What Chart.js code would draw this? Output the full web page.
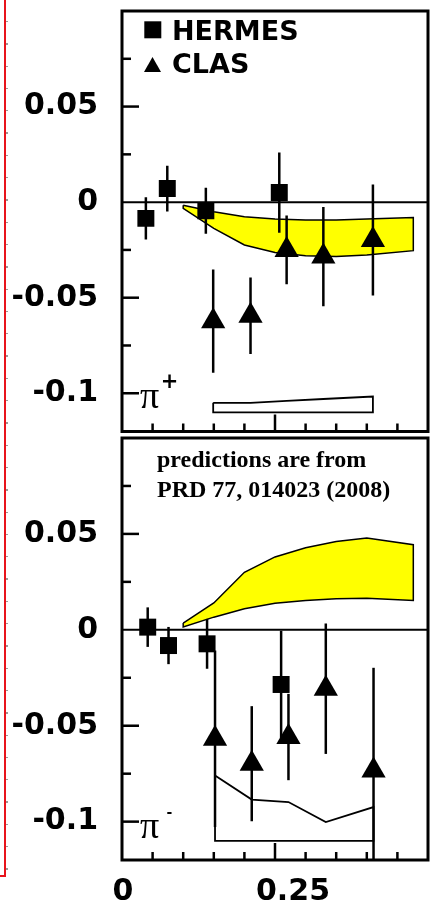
<!DOCTYPE html>
<html>
<head>
<meta charset="utf-8">
<script src="https://cdn.jsdelivr.net/npm/chart.js@4.4.0/dist/chart.umd.min.js"></script>
<style>
body { margin: 0; background: #fff; width: 434px; height: 914px; position: relative; overflow: hidden; }
canvas { position: absolute; left: 0; }
#top { top: 0; }
#bot { top: 430px; }
#edge { position: absolute; left: 0; top: 0; width: 4px; height: 875px; border-right: 2px solid #e8141c; border-bottom: 2px solid #e8141c; }
#edgeTicks { position: absolute; left: 6px; top: 0; width: 2px; height: 876px;
  background: repeating-linear-gradient(to bottom, transparent 0 21px, #999 21px 22.3px); }
</style>
</head>
<body>
<div id="edge"></div><div id="edgeTicks"></div>
<canvas id="top" width="434" height="440"></canvas>
<canvas id="bot" width="434" height="484"></canvas>
<script>
var xLabels = [0, 0.25];
var yLabels = [-0.1, -0.05, 0, 0.05];
var seriesNames = ['HERMES', 'CLAS'];

// pi+ panel
var hermesPlusX = [0.039, 0.074, 0.137, 0.257];
var hermesPlusY = [-0.0085, 0.0071, -0.0045, 0.005];
var hermesPlusErr = [0.011, 0.012, 0.012, 0.021];
var clasPlusX = [0.149, 0.210, 0.269, 0.329, 0.410];
var clasPlusY = [-0.0623, -0.0594, -0.025, -0.0285, -0.0198];
var clasPlusErr = [0.027, 0.020, 0.018, 0.026, 0.029];

// pi- panel
var hermesMinusX = [0.042, 0.076, 0.139, 0.260];
var hermesMinusY = [0.0014, -0.0082, -0.0073, -0.0285];
var hermesMinusErr = [0.0103, 0.0097, 0.013, 0.028];
var clasMinusX = [0.152, 0.212, 0.272, 0.333, 0.411];
var clasMinusY = [-0.0568, -0.0698, -0.0559, -0.0307, -0.0733];
var clasMinusErr = [0.046, 0.030, 0.0225, 0.034, 0.0535];

// prediction bands (PRD 77, 014023)
var bandX = [0.1, 0.15, 0.2, 0.25, 0.3, 0.35, 0.4, 0.476];
var bandPlusHi = [-0.0016, -0.005, -0.0076, -0.0088, -0.0094, -0.0094, -0.0088, -0.008];
var bandPlusLo = [-0.0033, -0.0137, -0.0224, -0.0264, -0.0281, -0.0285, -0.0276, -0.0254];
var bandMinusHi = [0.0035, 0.014, 0.03, 0.038, 0.0428, 0.046, 0.0478, 0.0444];
var bandMinusLo = [0.0015, 0.0066, 0.011, 0.0139, 0.0153, 0.0162, 0.0165, 0.0153];

// systematic error boxes
var sysBase = -0.11;
var sysPlusTop = [-0.105, -0.105, -0.104, -0.103, -0.1017];
var sysMinusTop = [-0.0759, -0.0885, -0.0898, -0.1002, -0.0924];

Chart.defaults.font.family = 'DejaVu Sans';

function pts(xs, ys) {
  return xs.map(function (x, i) { return { x: x, y: ys[i] }; });
}

// upper edge left->right, lower edge back, then close
function closedShape(xs, hi, lo) {
  var up = pts(xs, hi);
  var down = pts(xs, lo).reverse();
  return up.concat(down, [up[0]]);
}

var deco = {
  id: 'deco',
  beforeDatasetsDraw: function (chart) {
    var ctx = chart.ctx, a = chart.chartArea, y0 = chart.scales.y.getPixelForValue(0);
    ctx.save();
    ctx.strokeStyle = '#000';
    ctx.lineWidth = 2;
    ctx.beginPath();
    ctx.moveTo(a.left, y0);
    ctx.lineTo(a.right, y0);
    ctx.stroke();
    ctx.restore();
  },
  afterDatasetsDraw: function (chart) {
    // error bars
    var ctx = chart.ctx, a = chart.chartArea, ys = chart.scales.y;
    ctx.save();
    ctx.beginPath();
    ctx.rect(a.left, a.top, a.right - a.left, a.bottom - a.top);
    ctx.clip();
    ctx.strokeStyle = '#000';
    ctx.lineWidth = 2.5;
    chart.data.datasets.forEach(function (ds, i) {
      if (!ds.errors) return;
      chart.getDatasetMeta(i).data.forEach(function (pt, j) {
        var v = ds.data[j].y, e = ds.errors[j];
        ctx.beginPath();
        ctx.moveTo(pt.x, ys.getPixelForValue(v + e));
        ctx.lineTo(pt.x, ys.getPixelForValue(v - e));
        ctx.stroke();
      });
    });
    ctx.restore();
  },
  afterDraw: function (chart, args, opts) {
    var ctx = chart.ctx, a = chart.chartArea, xs = chart.scales.x, ys = chart.scales.y;
    var k, v, p, len;
    ctx.save();
    ctx.strokeStyle = '#000';
    ctx.fillStyle = '#000';

    // inward tick marks
    ctx.lineWidth = 2.5;
    for (k = -4; k <= 3; k++) {
      v = k * 0.025;
      if (k === 0) continue;
      p = ys.getPixelForValue(v);
      len = (k % 2 === 0) ? 17 : 9;
      ctx.beginPath(); ctx.moveTo(a.left, p); ctx.lineTo(a.left + len, p); ctx.stroke();
    }
    for (k = 1; k <= 9; k++) {
      p = xs.getPixelForValue(k * 0.05);
      len = (k === 5) ? 17 : 8;
      ctx.beginPath(); ctx.moveTo(p, a.bottom); ctx.lineTo(p, a.bottom - len); ctx.stroke();
    }

    // frame
    ctx.lineWidth = 3;
    ctx.strokeRect(a.left, a.top, a.right - a.left, a.bottom - a.top);

    // pion label
    ctx.textBaseline = 'alphabetic';
    ctx.textAlign = 'left';
    ctx.font = '38px "Liberation Serif"';
    ctx.fillText('\u03c0', 140, 408);
    ctx.textAlign = 'center';
    ctx.textBaseline = 'middle';
    ctx.font = opts.charge === '+' ? 'bold 21px "DejaVu Sans"' : 'bold 14px "DejaVu Sans"';
    ctx.fillText(opts.charge, 169.5, 383);

    // legend
    if (opts.legend) {
      ctx.fillRect(144.3, 21.3, 17, 17);
      ctx.beginPath();
      ctx.moveTo(152.5, 57);
      ctx.lineTo(161, 72);
      ctx.lineTo(144, 72);
      ctx.closePath();
      ctx.fill();
      ctx.textAlign = 'left';
      ctx.textBaseline = 'alphabetic';
      ctx.font = 'bold 27px "DejaVu Sans"';
      ctx.fillText(seriesNames[0], 172, 40);
      ctx.fillText(seriesNames[1], 172, 73);
    }

    // note
    if (opts.note) {
      ctx.textAlign = 'left';
      ctx.textBaseline = 'alphabetic';
      ctx.font = 'bold 24px "Liberation Serif"';
      ctx.fillText(opts.note[0], 157, 36.5);
      ctx.fillText(opts.note[1], 157, 66.5);
    }

    // x axis labels
    if (opts.xLabels) {
      ctx.textAlign = 'center';
      ctx.textBaseline = 'middle';
      ctx.font = 'bold 30px "DejaVu Sans"';
      xLabels.forEach(function (v) {
        var px = xs.getPixelForValue(v) + (v > 0 ? 18 : 1);
        ctx.fillText(String(v), px, a.bottom + 32);
      });
    }
    ctx.restore();
  }
};

function makePanel(id, d, padding, decoOpts) {
  var ctx = document.getElementById(id).getContext('2d');
  return new Chart(ctx, {
    type: 'line',
    data: {
      datasets: [
        {
          label: seriesNames[0],
          data: pts(d.hx, d.hy),
          errors: d.he,
          showLine: false,
          fill: false,
          pointStyle: 'rect',
          pointRadius: 12,
          pointBorderWidth: 0,
          pointBackgroundColor: '#000',
          order: 0
        },
        {
          label: seriesNames[1],
          data: pts(d.cx, d.cy),
          errors: d.ce,
          showLine: false,
          fill: false,
          pointStyle: 'triangle',
          pointRadius: 14,
          pointBorderWidth: 0,
          pointBackgroundColor: '#000',
          order: 1
        },
        {
          label: 'prediction',
          data: closedShape(bandX, d.bandHi, d.bandLo),
          fill: 'shape',
          backgroundColor: '#ffff00',
          borderColor: '#000',
          borderWidth: 1.5,
          pointRadius: 0,
          tension: 0,
          order: 2
        },
        {
          label: 'systematic',
          data: closedShape(d.cx, d.sysTop, d.cx.map(function () { return sysBase; })),
          fill: false,
          borderColor: '#000',
          borderWidth: 1.8,
          pointRadius: 0,
          tension: 0,
          order: 3
        }
      ]
    },
    options: {
      responsive: false,
      animation: false,
      events: [],
      layout: { padding: padding, autoPadding: false },
      plugins: {
        legend: { display: false },
        tooltip: { enabled: false },
        deco: decoOpts
      },
      scales: {
        x: { type: 'linear', min: 0, max: 0.5, display: false },
        y: {
          type: 'linear',
          min: -0.12,
          max: 0.1,
          grid: { display: false, drawTicks: false },
          border: { display: false },
          afterBuildTicks: function (s) {
            s.ticks = yLabels.map(function (v) { return { value: v }; });
          },
          afterFit: function (s) {
            s.width = 122;
            s.paddingTop = 0;
            s.paddingBottom = 0;
            s.paddingLeft = 0;
            s.paddingRight = 0;
          },
          ticks: {
            padding: 24,
            color: '#000',
            font: { size: 30, weight: 'bold' },
            callback: function (v) { return String(v); }
          }
        }
      }
    },
    plugins: [deco]
  });
}

makePanel('top', {
  hx: hermesPlusX, hy: hermesPlusY, he: hermesPlusErr,
  cx: clasPlusX, cy: clasPlusY, ce: clasPlusErr,
  bandHi: bandPlusHi, bandLo: bandPlusLo, sysTop: sysPlusTop
}, { top: 11, bottom: 8.5, left: 0, right: 6 }, { charge: '+', legend: true });

makePanel('bot', {
  hx: hermesMinusX, hy: hermesMinusY, he: hermesMinusErr,
  cx: clasMinusX, cy: clasMinusY, ce: clasMinusErr,
  bandHi: bandMinusHi, bandLo: bandMinusLo, sysTop: sysMinusTop
}, { top: 8, bottom: 54, left: 0, right: 6 },
  { charge: '-', note: ['predictions are from', 'PRD 77, 014023 (2008)'], xLabels: true });
</script>
</body>
</html>
